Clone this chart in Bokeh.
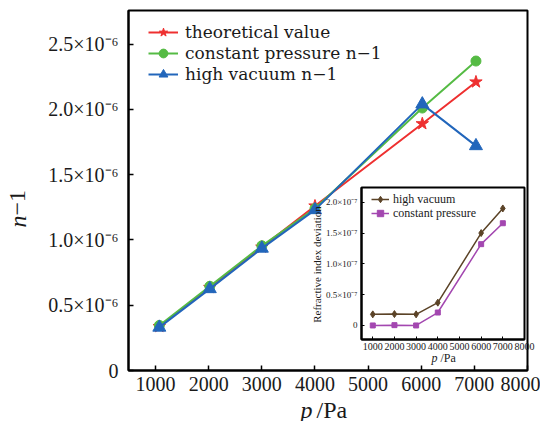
import math
from bokeh.plotting import figure
from bokeh.models import Label, Legend, LegendItem, CustomJSTickFormatter, FixedTicker, Range1d
from bokeh.embed import file_html
from bokeh.resources import INLINE

# ---- data ----
pressure = [1070, 2020, 3000, 4000, 6020, 7030]
theoretical = [0.337e-6, 0.636e-6, 0.945e-6, 1.26e-6, 1.89e-6, 2.21e-6]
constant_pressure = [0.345e-6, 0.645e-6, 0.955e-6, 1.24e-6, 2.01e-6, 2.37e-6]
high_vacuum = [0.330e-6, 0.625e-6, 0.935e-6, 1.23e-6, 2.04e-6, 1.72e-6]

inset_pressure = [1000, 2000, 3000, 4000, 6000, 7000]
dev_high_vacuum = [0.18e-7, 0.185e-7, 0.18e-7, 0.37e-7, 1.50e-7, 1.90e-7]
dev_constant = [0.0, 0.005e-7, 0.0, 0.21e-7, 1.32e-7, 1.66e-7]

x_ticks = [1000, 2000, 3000, 4000, 5000, 6000, 7000, 8000]
y_ticks = [0, 0.5e-6, 1.0e-6, 1.5e-6, 2.0e-6, 2.5e-6]
inset_y_ticks = [0, 0.5e-7, 1.0e-7, 1.5e-7, 2.0e-7]

main_labels = ["theoretical value", "constant pressure n\u22121", "high vacuum n\u22121"]
inset_labels = ["high vacuum", "constant pressure"]

FONT = "Liberation Serif"
LEGEND_FONT = "DejaVu Serif"
RED, GREEN, BLUE = "#EE3030", "#55BB44", "#2266BB"
BROWN, PURPLE = "#5B4327", "#A347B0"
INK = "#1a1a1a"

# ---- main figure ----
p = figure(width=540, height=418, x_range=Range1d(490, 8000), y_range=Range1d(0, 2.757e-6),
           output_backend="svg", toolbar_location=None,
           min_border_left=128, min_border_right=13, min_border_top=10, min_border_bottom=48)
p.xgrid.visible = False
p.ygrid.visible = False
p.outline_line_color = "black"
p.outline_line_width = 2
p.outline_line_alpha = 1

for ax in (p.xaxis[0], p.yaxis[0]):
    ax.axis_line_width = 2
    ax.axis_line_color = "black"
    ax.major_tick_in = 5
    ax.major_tick_out = 0
    ax.major_tick_line_width = 1.5
    ax.minor_tick_line_color = None
    ax.major_label_text_font = FONT
    ax.major_label_text_font_size = "20px"
    ax.major_label_text_color = INK
p.xaxis.ticker = FixedTicker(ticks=x_ticks)
p.yaxis.ticker = FixedTicker(ticks=y_ticks)
p.xaxis.major_label_standoff = 6
p.yaxis.major_label_standoff = 10
p.yaxis.formatter = CustomJSTickFormatter(code="""
if (Math.abs(tick) < 1e-12) return "0";
return (tick*1e6).toFixed(1) + "\u00d710\u207b\u2076";
""")

r_line = p.line(pressure, theoretical, color=RED, line_width=2)
r_mark = p.scatter(pressure, theoretical, marker="star", size=13, color=RED)
g_line = p.line(pressure, constant_pressure, color=GREEN, line_width=2)
g_mark = p.scatter(pressure, constant_pressure, marker="circle", size=10, color=GREEN)
b_line = p.line(pressure, high_vacuum, color=BLUE, line_width=2)
b_mark = p.scatter(pressure, high_vacuum, marker="triangle", size=13, color=BLUE)

# one legend per row, so that the rows sit as tightly as in the reference
for label, rends, loc_y in zip(main_labels, [[r_line, r_mark], [g_line, g_mark], [b_line, b_mark]],
                               [327, 306, 285]):
    lg = Legend(items=[LegendItem(label=label, renderers=rends)], location=(20, loc_y),
                margin=0, padding=0, spacing=0, border_line_color=None, background_fill_alpha=0,
                label_text_font=LEGEND_FONT, label_text_font_size="17px", label_text_color=INK,
                glyph_width=30, glyph_height=22, label_height=22, label_standoff=7)
    p.add_layout(lg, "center")

# ---- inset figure ----
inset = figure(width=231, height=185, x_range=Range1d(480, 8000), y_range=Range1d(-0.228e-7, 2.24e-7),
               output_backend="svg", toolbar_location=None,
               min_border_left=56, min_border_right=12, min_border_top=7, min_border_bottom=26,
               styles={"position": "absolute", "left": "305px", "top": "180px"})
inset.border_fill_color = None
inset.background_fill_color = "white"
inset.xgrid.visible = False
inset.ygrid.visible = False
inset.outline_line_color = "black"
inset.outline_line_width = 2
inset.outline_line_alpha = 1
for ax in (inset.xaxis[0], inset.yaxis[0]):
    ax.axis_line_width = 2
    ax.axis_line_color = "black"
    ax.major_tick_in = 3
    ax.major_tick_out = 0
    ax.minor_tick_line_color = None
    ax.major_label_text_font = FONT
    ax.major_label_text_color = INK
inset.xaxis.major_label_text_font_size = "10px"
inset.yaxis.major_label_text_font_size = "9px"
inset.xaxis.ticker = FixedTicker(ticks=x_ticks)
inset.yaxis.ticker = FixedTicker(ticks=inset_y_ticks)
inset.xaxis.major_label_standoff = 3
inset.yaxis.major_label_standoff = 4
inset.yaxis.formatter = CustomJSTickFormatter(code="""
if (Math.abs(tick) < 1e-12) return "0";
return (tick*1e7).toFixed(1) + "\u00d710\u207b\u2077";
""")

hv_line = inset.line(inset_pressure, dev_high_vacuum, color=BROWN, line_width=1.5)
hv_mark = inset.scatter(inset_pressure, dev_high_vacuum, marker="diamond", size=7, color=BROWN)
cp_line = inset.line(inset_pressure, dev_constant, color=PURPLE, line_width=1.5)
cp_mark = inset.scatter(inset_pressure, dev_constant, marker="square", size=5, color=PURPLE)

for label, rends, loc_y in zip(inset_labels, [[hv_line, hv_mark], [cp_line, cp_mark]], [132, 118]):
    lg = Legend(items=[LegendItem(label=label, renderers=rends)], location=(10, loc_y),
                margin=0, padding=0, spacing=0, border_line_color=None, background_fill_alpha=0,
                label_text_font=FONT, label_text_font_size="12px", label_text_color=INK,
                glyph_width=18, glyph_height=16, label_height=16, label_standoff=4)
    inset.add_layout(lg, "center")

# ---- transparent overlay carrying the axis titles (italic variable, upright unit) ----
ov = figure(width=550, height=421, x_range=Range1d(0, 550), y_range=Range1d(0, 421),
            output_backend="svg", toolbar_location=None,
            x_axis_location=None, y_axis_location=None,
            min_border=0, min_border_left=0, min_border_right=0, min_border_top=0, min_border_bottom=0,
            styles={"position": "absolute", "left": "0px", "top": "0px", "pointer-events": "none"})
ov.xgrid.visible = False
ov.ygrid.visible = False
ov.outline_line_color = None
ov.border_fill_color = None
ov.background_fill_color = None


def title_part(x, y, text, size, italic=False, angle=0.0, align="left"):
    ov.add_layout(Label(x=x, y=421 - y, x_units="screen", y_units="screen", text=text,
                        text_font=FONT, text_font_style="italic" if italic else "normal",
                        text_font_size=size, angle=angle, text_align=align,
                        text_baseline="middle", text_color=INK))


# main x title "p /Pa"
title_part(312, 409, "p", "24px", italic=True, align="right")
title_part(316, 409, "/Pa", "24px")
# main y title "n-1"
title_part(17, 215, "n", "24px", italic=True, angle=math.pi / 2, align="right")
title_part(17, 215, "\u22121", "24px", angle=math.pi / 2)
# inset x title
title_part(437, 357, "p", "12px", italic=True, align="right")
title_part(440, 357, "/Pa", "12px")
# inset y title
title_part(316, 264, "Refractive index deviation", "11px", angle=math.pi / 2, align="center")

open("out.html", "w").write(file_html([p, inset, ov], INLINE))
